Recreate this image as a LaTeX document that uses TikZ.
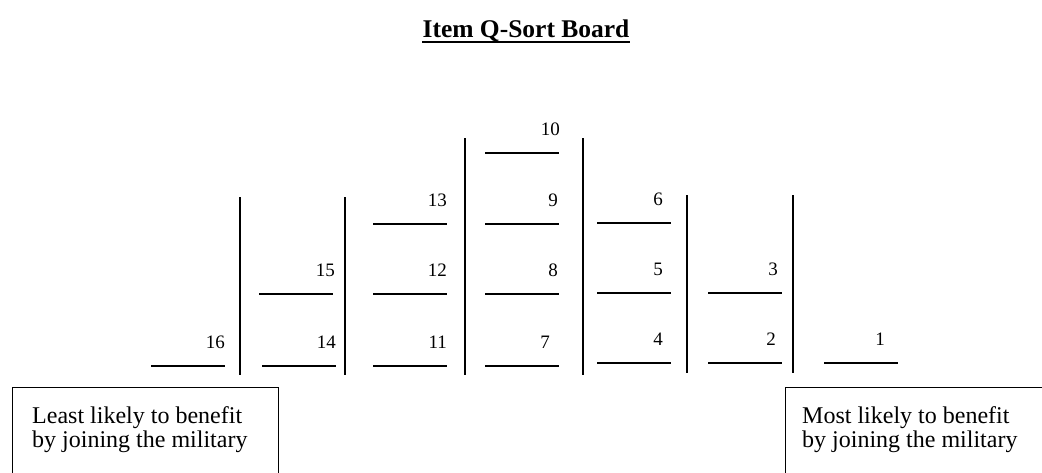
\documentclass[tikz,border=0pt]{standalone}
\usepackage{fontspec}
\setmainfont{Liberation Serif}
\usepackage{tikz}
\usetikzlibrary{positioning}

\tikzset{
  blank/.style={line width=1.4pt},
  divider/.style={line width=1.6pt},
  itemnum/.style={anchor=base east, inner sep=0pt, font=\fontsize{19}{21}\selectfont},
  endnote/.style={align=left, anchor=north west, inner sep=0pt, font=\fontsize{24}{24.5}\selectfont}
}

\begin{document}
\begin{tikzpicture}[x=1pt, y=-1pt]
        \useasboundingbox (0,0) rectangle (1042,472);
        % title
        \node[anchor=base, inner sep=0pt, font=\fontsize{25.5}{28}\selectfont\bfseries] (title) at (526,37) {Item Q-Sort Board};
        \draw[line width=1.8pt] ([yshift=-5pt]title.base west) -- ([yshift=-5pt]title.base east);
        % column dividers
        \foreach \x/\top/\bot in {240/197/375, 345/197/375, 465/138/375, 583/138/375, 687/195/373, 793/195/373}
          \draw[divider] (\x,\top) -- (\x,\bot);
        % blanks with their numbers
        \foreach \num/\xr/\xn/\y in {16/225/225/366, 14/336/336/366, 15/333/335/294,
            11/447/447/366, 12/447/447/294, 13/447/447/224,
            7/559/550/366, 8/559/558/294, 9/559/558/224, 10/559/560/153,
            4/671/663/363, 5/671/663/293, 6/671/663/223,
            2/782/776/363, 3/782/778/293, 1/898/885/363}
        {
          \coordinate (b\num) at (\xr,\y);
          \draw[blank] ([xshift=-74pt]b\num) -- (b\num);
          \node[itemnum] (n\num) at (\xn,\y-18) {\num};
        }
        % end labels
        \draw[line width=1pt] (12,480) -- (12,387) -- (278,387) -- (278,480);
        \node[endnote] (least) at (32,406) {Least likely to benefit\\by joining the military};
        \draw[line width=1pt] (785,480) -- (785,387) -- (1050,387);
        \node[endnote] (most) at (802,406) {Most likely to benefit\\by joining the military};
      \end{tikzpicture}
\end{document}
